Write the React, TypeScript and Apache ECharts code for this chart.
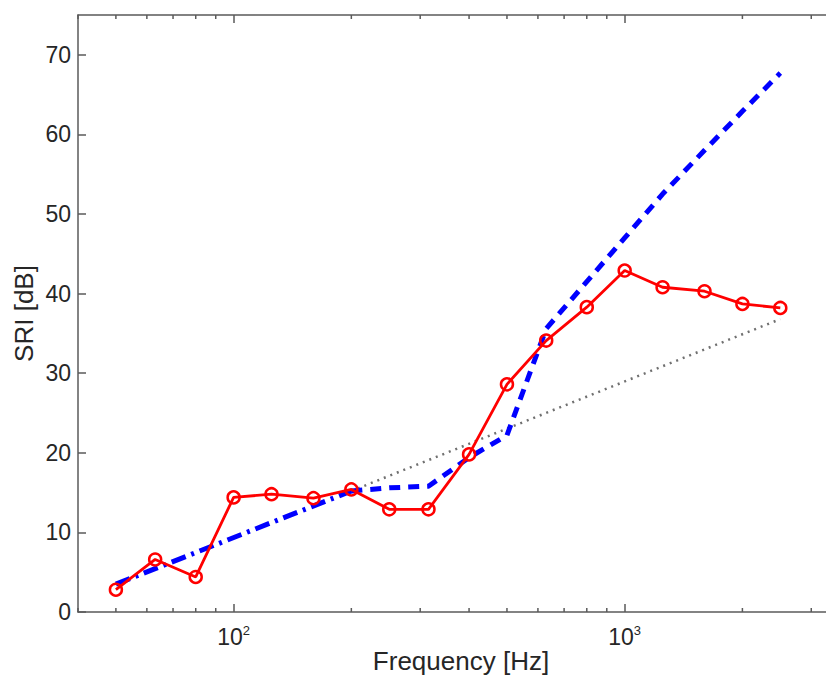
import React, { useEffect, useRef } from 'react';
import * as echarts from 'echarts';

const frequencies = [50, 63, 80, 100, 125, 160, 200, 250, 315, 400, 500, 630, 800, 1000, 1250, 1600, 2000, 2500];
const measuredSRI = [2.8, 6.6, 4.4, 14.4, 14.8, 14.3, 15.4, 12.9, 12.9, 19.8, 28.6, 34.1, 38.3, 42.9, 40.8, 40.3, 38.7, 38.2];

const modelFrequencies = [200, 250, 315, 400, 500, 630, 800, 1000, 1250, 1600, 2000, 2500];
const modelSRI = [15.2, 15.6, 15.8, 19.4, 22.2, 35.6, 41.5, 47.0, 52.5, 58.0, 62.9, 67.7];

const massLawLowFreq = [50, 200];
const massLawLowSRI = [3.5, 15.2];
const massLawHighFreq = [200, 2500];
const massLawHighSRI = [15.2, 36.8];

const yTicks = [0, 10, 20, 30, 40, 50, 60, 70];
const xMajorTicks = [100, 1000];
const xMinorTicks = [40, 50, 60, 70, 80, 90, 200, 300, 400, 500, 600, 700, 800, 900, 2000, 3000];

const X_MIN = 40;
const X_MAX = 3450;
const Y_MIN = 0;
const Y_MAX = 75;

const FONT = '"Liberation Sans", Arial, Helvetica, sans-serif';
const AXIS_COLOR = '#5a5a5a';
const TEXT_COLOR = '#262626';

const zip = (xs: number[], ys: number[]) => xs.map((x, i) => [x, ys[i]]);

export default function App() {
  const ref = useRef<HTMLDivElement>(null);

  useEffect(() => {
    if (!ref.current) return;
    const chart = echarts.init(ref.current, undefined, { renderer: 'svg' });

    const baseX = {
      type: 'log' as const,
      logBase: 10,
      min: X_MIN,
      max: X_MAX,
      splitLine: { show: false },
      minorTick: { show: false },
      axisLine: { show: true, lineStyle: { color: AXIS_COLOR, width: 1.5 } },
      axisTick: { show: true, inside: true, length: 8, customValues: xMajorTicks, lineStyle: { color: AXIS_COLOR, width: 1.5 } },
    };

    chart.setOption({
      animation: false,
      backgroundColor: '#ffffff',
      grid: { left: 78, top: 15, width: 757, height: 597, containLabel: false, outerBoundsMode: 'none' },
      xAxis: [
        {
          ...baseX,
          position: 'bottom',
          name: 'Frequency [Hz]',
          nameLocation: 'middle',
          nameGap: 36,
          nameMoveOverlap: false,
          nameTextStyle: { fontFamily: FONT, fontSize: 26, color: TEXT_COLOR, padding: [0, 0, 0, 9] },
          axisLabel: {
            show: true,
            customValues: xMajorTicks,
            margin: 12,
            fontFamily: FONT,
            color: TEXT_COLOR,
            formatter: (v: number) => `{b|10}{s|${Math.round(Math.log10(v))}}`,
            rich: {
              b: { fontFamily: FONT, fontSize: 23, lineHeight: 26, color: TEXT_COLOR },
              s: { fontFamily: FONT, fontSize: 13, lineHeight: 13, verticalAlign: 'top', color: TEXT_COLOR },
            },
          },
        },
        {
          ...baseX,
          position: 'top',
          axisLabel: { show: false },
        },
      ],
      yAxis: [
        {
          type: 'value',
          min: Y_MIN,
          max: Y_MAX,
          interval: 10,
          position: 'left',
          name: 'SRI [dB]',
          nameLocation: 'middle',
          nameRotate: 90,
          nameGap: 41,
          nameMoveOverlap: false,
          nameTextStyle: { fontFamily: FONT, fontSize: 26, color: TEXT_COLOR },
          splitLine: { show: false },
          axisLine: { show: true, lineStyle: { color: AXIS_COLOR, width: 1.5 } },
          axisTick: { show: true, inside: true, length: 8, customValues: yTicks, lineStyle: { color: AXIS_COLOR, width: 1.5 } },
          axisLabel: { show: true, customValues: yTicks, margin: 7, fontFamily: FONT, fontSize: 23, color: TEXT_COLOR },
        },
      ],
      series: [
        {
          type: 'custom',
          name: 'minorTicks',
          silent: true,
          xAxisIndex: 0,
          yAxisIndex: 0,
          clip: false,
          data: xMinorTicks.map((v) => [v, Y_MIN]),
          renderItem: (_params: any, api: any) => {
            const v = api.value(0);
            const b = api.coord([v, Y_MIN]);
            const t = api.coord([v, Y_MAX]);
            const style = { stroke: AXIS_COLOR, lineWidth: 1.5 };
            return {
              type: 'group',
              children: [
                { type: 'line', shape: { x1: b[0], y1: b[1], x2: b[0], y2: b[1] - 4 }, style },
                { type: 'line', shape: { x1: t[0], y1: t[1], x2: t[0], y2: t[1] + 4 }, style },
              ],
            };
          },
        },
        {
          type: 'line',
          name: 'massLawHigh',
          data: zip(massLawHighFreq, massLawHighSRI),
          showSymbol: false,
          symbol: 'none',
          lineStyle: { color: '#707070', width: 2.5, type: [2, 5], cap: 'butt' },
          z: 2,
        },
        {
          type: 'line',
          name: 'massLawLow',
          data: zip(massLawLowFreq, massLawLowSRI),
          showSymbol: false,
          symbol: 'none',
          lineStyle: { color: '#0000ff', width: 5, type: [15, 6, 3, 6], cap: 'butt' },
          z: 3,
        },
        {
          type: 'line',
          name: 'model',
          data: zip(modelFrequencies, modelSRI),
          showSymbol: false,
          symbol: 'none',
          lineStyle: { color: '#0000ff', width: 5, type: [11, 8], cap: 'butt' },
          z: 3,
        },
        {
          type: 'line',
          name: 'measured',
          data: zip(frequencies, measuredSRI),
          symbol: 'circle',
          symbolSize: 12,
          showSymbol: true,
          lineStyle: { color: '#ff0000', width: 2.8 },
          itemStyle: { color: 'rgba(0,0,0,0)', borderColor: '#ff0000', borderWidth: 2.5 },
          z: 4,
        },
      ],
    });

    return () => chart.dispose();
  }, []);

  return (
    <div
      ref={ref}
      style={{ position: 'absolute', left: 0, top: 0, width: 826, height: 678, background: '#ffffff' }}
    />
  );
}
